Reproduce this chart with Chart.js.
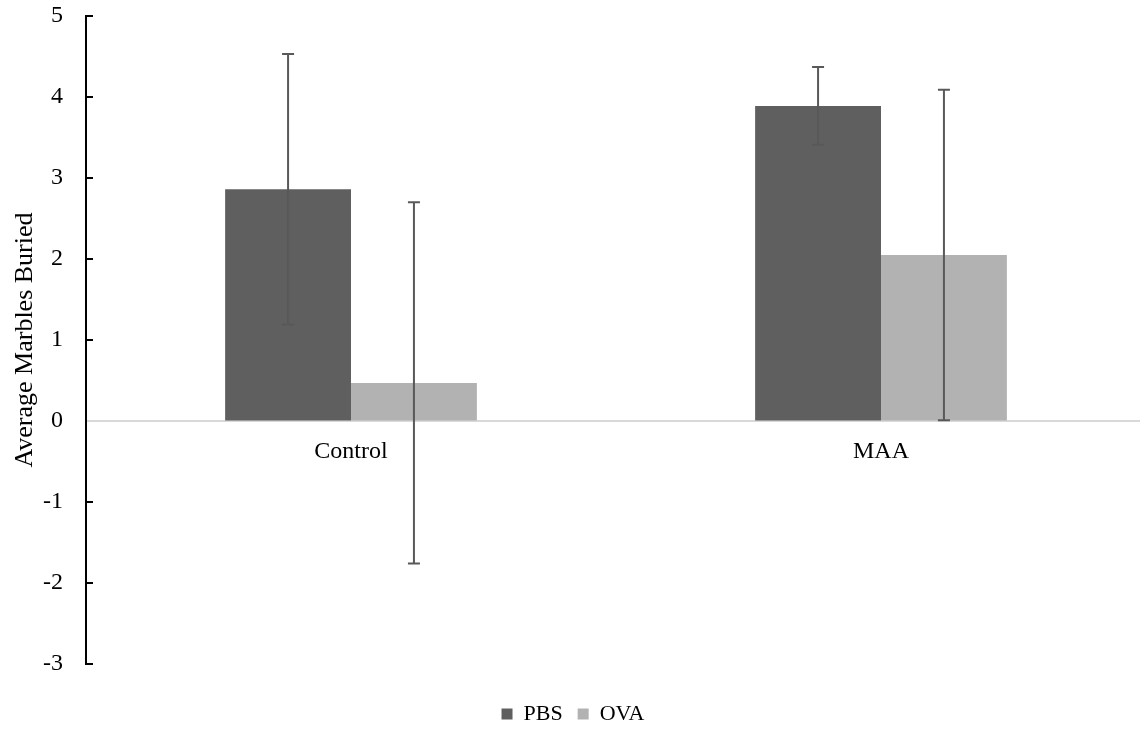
<!DOCTYPE html>
<html>
<head>
<meta charset="utf-8">
<script src="https://cdn.jsdelivr.net/npm/chart.js@4.4.1/dist/chart.umd.min.js"></script>
<style>
  html, body { margin: 0; padding: 0; background: #fff; overflow: hidden; }
  #wrap { width: 1146px; height: 735px; }
</style>
</head>
<body>
<div id="wrap"><canvas id="chart" width="1146" height="735"></canvas></div>
<script>
// data
const groups = ["Control", "MAA"];
const pbsMeans = [2.86, 3.89];
const pbsErrors = [1.67, 0.48];
const ovaMeans = [0.47, 2.05];
const ovaErrors = [2.23, 2.04];
const yTicks = [-3, -2, -1, 0, 1, 2, 3, 4, 5];

const serif = "'Liberation Serif', 'Times New Roman', serif";

// error bars, drawn on top of the bars
const errorBars = {
  id: "errorBars",
  afterDatasetsDraw(chart) {
    const ctx = chart.ctx;
    const y = chart.scales.y;
    ctx.save();
    ctx.strokeStyle = "#595959";
    ctx.lineWidth = 2;
    chart.data.datasets.forEach((ds, i) => {
      const meta = chart.getDatasetMeta(i);
      meta.data.forEach((bar, j) => {
        const v = ds.data[j], e = ds.errors[j];
        const top = y.getPixelForValue(v + e);
        const bot = y.getPixelForValue(v - e);
        ctx.beginPath();
        ctx.moveTo(bar.x, top); ctx.lineTo(bar.x, bot);
        ctx.moveTo(bar.x - 6, top); ctx.lineTo(bar.x + 6, top);
        ctx.moveTo(bar.x - 6, bot); ctx.lineTo(bar.x + 6, bot);
        ctx.stroke();
      });
    });
    ctx.restore();
  }
};

// small tick marks pointing into the plot
const innerTicks = {
  id: "innerTicks",
  afterDraw(chart) {
    const ctx = chart.ctx;
    const y = chart.scales.y;
    const x0 = chart.chartArea.left;
    ctx.save();
    ctx.strokeStyle = "#000";
    ctx.lineWidth = 2;
    y.ticks.forEach((t, i) => {
      if (t.value === 0) return;
      const py = Math.round(y.getPixelForTick(i));
      ctx.beginPath();
      ctx.moveTo(x0, py); ctx.lineTo(x0 + 7, py);
      ctx.stroke();
    });
    ctx.restore();
  }
};

new Chart(document.getElementById("chart"), {
  type: "bar",
  data: {
    labels: groups,
    datasets: [
      { label: "PBS", data: pbsMeans, errors: pbsErrors, backgroundColor: "#5f5f5f" },
      { label: "OVA", data: ovaMeans, errors: ovaErrors, backgroundColor: "#b2b2b2" }
    ]
  },
  options: {
    responsive: false,
    animation: false,
    categoryPercentage: 0.475,
    barPercentage: 1,
    layout: { padding: { top: 16, right: 0, bottom: 0, left: 0 } },
    plugins: {
      tooltip: { enabled: false },
      legend: {
        position: "bottom",
        // empty title only used as spacing above the entries
        title: { display: true, text: " ", padding: { top: 12, bottom: 0 }, font: { size: 10 } },
        labels: {
          boxWidth: 11, boxHeight: 11, padding: 15,
          color: "#000",
          font: { family: serif, size: 22 }
        }
      }
    },
    scales: {
      x: {
        position: { y: 0 },
        grid: { display: false, drawTicks: false },
        border: { color: "#d9d9d9", width: 2 },
        ticks: { color: "#000", padding: 16, font: { family: serif, size: 24 } }
      },
      y: {
        min: -3, max: 5,
        afterBuildTicks(scale) { scale.ticks = yTicks.map(v => ({ value: v })); },
        afterFit(scale) { scale.width = 86; scale.paddingTop = 0; scale.paddingBottom = 0; },
        grid: { display: true, drawOnChartArea: false, drawTicks: false },
        border: { color: "#000", width: 2 },
        ticks: { color: "#000", padding: 23, font: { family: serif, size: 24 } },
        title: {
          display: true, text: "Average Marbles Buried", color: "#000",
          padding: { top: 10, bottom: 0 },
          font: { family: serif, size: 26 }
        }
      }
    }
  },
  plugins: [errorBars, innerTicks]
});
</script>
</body>
</html>
